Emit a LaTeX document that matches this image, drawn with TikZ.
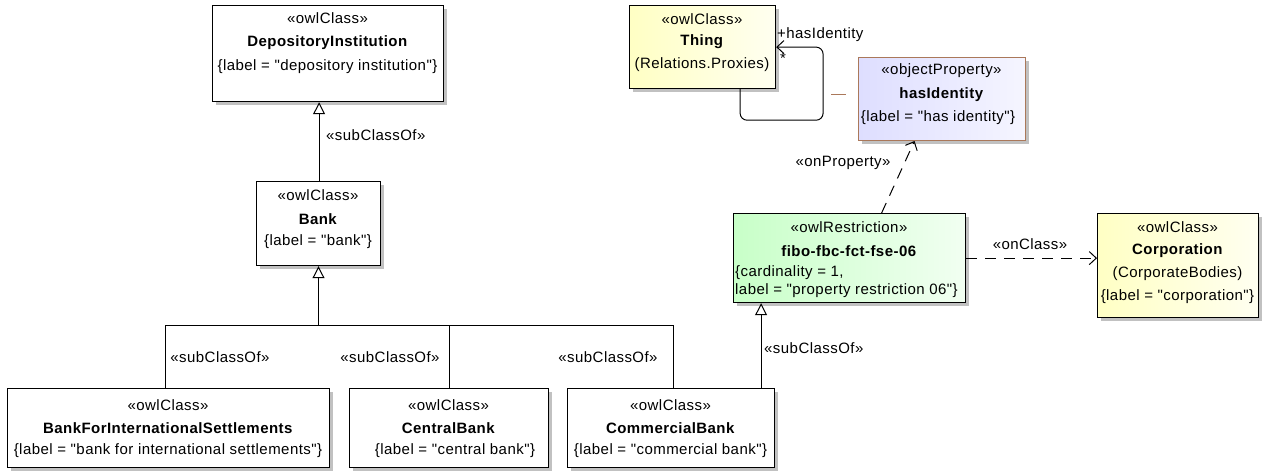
\documentclass[tikz,border=0pt]{standalone}
\usepackage{fontspec}
\setmainfont{Liberation Sans}[LetterSpace=3, Ligatures=TeXOff]
\usetikzlibrary{arrows.meta,shadows}
\newcommand\dfs{\fontsize{15}{17}\selectfont}
\definecolor{tyel}{RGB}{255,255,196}
\definecolor{tlav}{RGB}{222,222,255}
\definecolor{tgrn}{RGB}{200,255,200}
\definecolor{tbrown}{RGB}{170,120,90}
\tikzset{
  box/.style={draw=black, line width=1.2pt, inner sep=0pt, anchor=north west,
    fill=white, drop shadow={shadow xshift=3.5pt, shadow yshift=-3.5pt, fill=black!35, opacity=0.7}},
  yelbox/.style={box, left color=tyel, right color=tyel!25!white},
  lavbox/.style={box, draw=tbrown, line width=1pt, left color=tlav, right color=tlav!30!white},
  grnbox/.style={box, left color=tgrn, right color=tgrn!25!white},
  txt/.style={inner sep=0pt, font=\dfs},
  lbl/.style={inner sep=0pt, font=\dfs},
  conn/.style={line width=1pt, black},
  gen/.style={conn, -{Triangle[open, length=12pt, width=12pt, line width=1pt]}},
  barb/.style={-{Straight Barb[length=7pt, width=13pt, line width=1pt]}},
  dep/.style={conn, dash pattern=on 11pt off 8pt, barb},
}
\begin{document}
\begin{tikzpicture}[x=1pt, y=-1pt]
\useasboundingbox (0,0) rectangle (1266,475);

% ---- boxes ----
\node[box, minimum width=231pt, minimum height=96pt] (di) at (212,5) {};
\node[box, minimum width=124pt, minimum height=84pt] (bank) at (256,181) {};
\node[yelbox, minimum width=146pt, minimum height=83pt] (thing) at (629,5) {};
\node[lavbox, minimum width=167pt, minimum height=83pt] (hi) at (858,57) {};
\node[grnbox, minimum width=232pt, minimum height=89pt] (rs) at (733,213) {};
\node[yelbox, minimum width=161pt, minimum height=104pt] (corp) at (1097,213) {};
\node[box, minimum width=322pt, minimum height=79pt] (bfis) at (7,388) {};
\node[box, minimum width=199pt, minimum height=79pt] (cen) at (349,388) {};
\node[box, minimum width=207pt, minimum height=79pt] (com) at (567,388) {};

% ---- texts ----
\node[txt] (diS) at (327.5,18) {«owlClass»};
\node[txt] (diN) at (327.5,43) {\textbf{DepositoryInstitution}};
\node[txt] (diL) at (327.5,67) {\{label = "depository institution"\}};

\node[txt] (bankS) at (318,195) {«owlClass»};
\node[txt] (bankN) at (318,219) {\textbf{Bank}};
\node[txt] (bankL) at (318,242) {\{label = "bank"\}};

\node[txt] (thingS) at (702,19) {«owlClass»};
\node[txt] (thingN) at (702,42) {\textbf{Thing}};
\node[txt] (thingP) at (702,65) {(Relations.Proxies)};

\node[txt] (hiS) at (941.5,71) {«objectProperty»};
\node[txt] (hiN) at (941.5,95) {\textbf{hasIdentity}};
\node[txt] (hiL) at (938,118) {\{label = "has identity"\}};

\node[txt] (rsS) at (849,227) {«owlRestriction»};
\node[txt] (rsN) at (849,251) {\textbf{fibo-fbc-fct-fse-06}};
\node[txt, anchor=west] (rsC) at (735,273) {\{cardinality = 1,};
\node[txt, anchor=west] (rsL) at (735,291) {label = "property restriction 06"\}};

\node[txt] (corpS) at (1177.5,227) {«owlClass»};
\node[txt] (corpN) at (1177.5,251) {\textbf{Corporation}};
\node[txt] (corpP) at (1177.5,274) {(CorporateBodies)};
\node[txt] (corpL) at (1177.5,297) {\{label = "corporation"\}};

\node[txt] (bfisS) at (168,405) {«owlClass»};
\node[txt] (bfisN) at (168,428) {\textbf{BankForInternationalSettlements}};
\node[txt] (bfisL) at (168,451) {\{label = "bank for international settlements"\}};

\node[txt] (cenS) at (448.5,405) {«owlClass»};
\node[txt] (cenN) at (448.5,428) {\textbf{CentralBank}};
\node[txt] (cenL) at (455,451) {\{label = "central bank"\}};

\node[txt] (comS) at (670.5,405) {«owlClass»};
\node[txt] (comN) at (670.5,428) {\textbf{CommercialBank}};
\node[txt] (comL) at (670.5,451) {\{label = "commercial bank"\}};

% ---- connectors ----
% Bank -> DepositoryInstitution
\draw[gen] ([xshift=0.5pt]bank.north) coordinate (b1) -- (b1 |- di.south);
\node[lbl, anchor=west] (l1) at (326,135) {«subClassOf»};

% generalization tree to Bank
\coordinate (bus) at (318.5,325.5);
\draw[conn] ([xshift=-3.5pt]bfis.north) |- (bus);
\draw[conn] ([xshift=2pt]com.north) |- (bus);
\draw[conn] (cen.north) -- (cen.north |- bus);
\draw[gen] (bus) -- (bus |- bank.south);
\node[lbl] (l2) at (220,357) {«subClassOf»};
\node[lbl] (l3) at (390,357) {«subClassOf»};
\node[lbl] (l4) at (608,357) {«subClassOf»};

% CommercialBank -> restriction
\draw[gen] ([xshift=90pt]com.north) coordinate (c1) -- (c1 |- rs.south);
\node[lbl, anchor=west] (l5) at (764,348) {«subClassOf»};

% restriction -> hasIdentity (onProperty)
\draw[dep] ([xshift=32pt]rs.north) -- ([xshift=-27.5pt]hi.south);
\node[lbl] (l6) at (843,163) {«onProperty»};

% restriction -> Corporation (onClass)
\draw[dep] (rs.east) -- (rs.east -| corp.west);
\node[lbl] (l7) at (1030,244) {«onClass»};

% self association on Thing
\draw[conn, rounded corners=7pt, barb]
  ([xshift=37.5pt]thing.south) -- ++(0,31) -- ++(83,0) |- (thing.east);
\node[lbl, anchor=west] (l8) at (777,35) {+hasIdentity};
\node[lbl, anchor=west] (l9) at (780,58) {*};

% association class link
\coordinate (assoc) at (822,94.5);
\draw[tbrown, line width=1.1pt, dash pattern=on 0pt off 9pt on 15pt off 40pt] (assoc) -- (assoc -| hi.west);
\end{tikzpicture}
\end{document}
